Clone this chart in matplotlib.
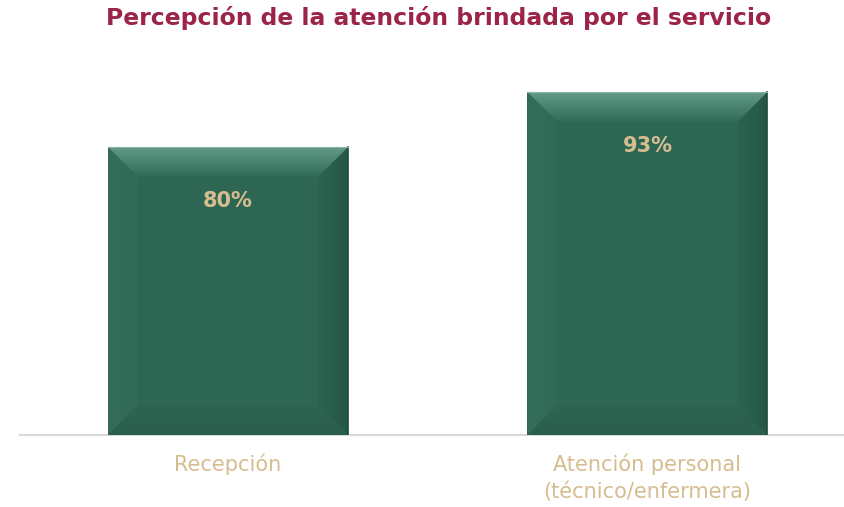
import matplotlib
matplotlib.use("Agg")
import matplotlib.pyplot as plt
import numpy as np
from matplotlib.patches import Polygon

categories = ["Recepción", "Atención personal\n(técnico/enfermera)"]
values = [80, 93]
value_labels = ["80%", "93%"]
title = "Percepción de la atención brindada por el servicio"

TITLE_COLOR = "#9B2448"
TAN = "#D6BD8F"
FACE = "#2E6654"

fig = plt.figure(figsize=(8.45, 5.07), dpi=100)
ax = fig.add_axes([20/845, 72/507, 825/845, 365/507])
x = np.arange(len(categories))
bars = ax.bar(x, values, width=0.572, color=FACE, edgecolor="none", zorder=2)
ax.set_xlim(-0.496, 1.471)
ax.set_ylim(11.9, 98.2)

pxy = 365 / (98.2 - 11.9)   # px per y unit
bx = 30 / 419.5
by = 30 / pxy


def grad_patch(poly_pts, c0, c1, extent, vertical=True):
    poly = Polygon(poly_pts, closed=True, facecolor="none", edgecolor="none", zorder=3)
    ax.add_patch(poly)
    g = np.linspace(0, 1, 64)
    c0 = np.array(c0) / 255
    c1 = np.array(c1) / 255
    if vertical:
        g = g.reshape(-1, 1)
    else:
        g = g.reshape(1, -1)
    img = c0[None, None, :] * (1 - g[:, :, None]) + c1[None, None, :] * g[:, :, None]
    im = ax.imshow(img, extent=extent, origin="lower", aspect="auto",
                   zorder=3, interpolation="bilinear")
    im.set_clip_path(poly)


for b in bars:
    x0, w, h = b.get_x(), b.get_width(), b.get_height()
    x1 = x0 + w
    y0 = 11.9
    # left bevel
    grad_patch([(x0, y0), (x0 + bx, y0 + by), (x0 + bx, h - by), (x0, h)],
               (0x34, 0x6E, 0x5A), (0x30, 0x69, 0x56), [x0, x0 + bx, y0, h], vertical=False)
    # right bevel
    grad_patch([(x1, y0), (x1 - bx, y0 + by), (x1 - bx, h - by), (x1, h)],
               (0x2C, 0x62, 0x50), (0x26, 0x57, 0x47), [x1 - bx, x1, y0, h], vertical=False)
    # bottom bevel
    grad_patch([(x0, y0), (x0 + bx, y0 + by), (x1 - bx, y0 + by), (x1, y0)],
               (0x2B, 0x5E, 0x4D), (0x2D, 0x64, 0x52), [x0, x1, y0, y0 + by])
    # top bevel
    grad_patch([(x0, h), (x0 + bx, h - by), (x1 - bx, h - by), (x1, h)],
               (0x31, 0x6B, 0x58), (0x62, 0x9C, 0x87), [x0, x1, h - by, h])
    ax.plot([x1, x1], [y0, h], color="#1F4A3C", lw=1.2, zorder=4)
    ax.plot([x0, x1], [h, h], color="#8DB5A5", lw=0.8, zorder=4)

for xi, v, lab in zip(x, values, value_labels):
    ax.text(xi, v - 12.8, lab, ha="center", va="center", color=TAN,
            fontsize=15, fontweight="bold", family="DejaVu Sans", zorder=5)

ax.set_xticks(x)
ax.set_xticklabels(categories, color=TAN, fontsize=15, family="DejaVu Sans",
                   linespacing=1.4)
ax.tick_params(axis="x", length=0, pad=13)
ax.set_yticks([])
for s in ["top", "left", "right"]:
    ax.spines[s].set_visible(False)
ax.spines["bottom"].set_color("#D9D9D9")
ax.spines["bottom"].set_linewidth(1.5)
ax.spines["bottom"].set_zorder(1)

fig.text(439/845, 1 - 18/507, title, ha="center", va="center",
         color=TITLE_COLOR, fontsize=16.9, fontweight="bold", family="DejaVu Sans")

fig.savefig("out.png", dpi=100)
